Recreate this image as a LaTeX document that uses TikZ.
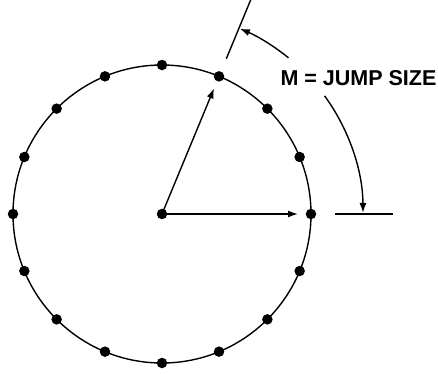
\documentclass[tikz,border=0pt]{standalone}
\usepackage{fontspec}
\setmainfont{Liberation Sans}
\usetikzlibrary{arrows.meta,calc}
\tikzset{
  dot/.style={circle,fill=black,inner sep=0pt,minimum size=10.5pt},
  ln/.style={line width=1.4pt},
  arr/.style={ln,-{Latex[length=10pt,width=7pt]}},
  lbl/.style={font=\bfseries\fontsize{21.5}{25}\selectfont,inner sep=0pt}
}
\begin{document}
\begin{tikzpicture}[x=1pt,y=-1pt]
\useasboundingbox (0,0) rectangle (438,373);
\coordinate (c) at (162,214);
\draw[ln] (c) circle[radius=149];
\node[dot] (ctr) at (c) {};
\foreach \i in {0,...,15}{
  \node[dot] (d\i) at ($(c)+(-22.5*\i:149)$) {};
}
% vectors
\draw[arr,shorten >=13pt] (ctr.center) -- (d0.center);
\draw[arr,shorten >=13pt] (ctr.center) -- (d3.center);
% radial tick and horizontal tick
\coordinate (t1a) at ($(c)+(-67.5:168)$);
\coordinate (t1b) at ($(c)+(-67.5:232)$);
\coordinate (t2a) at ($(c)+(0:173)$);
\coordinate (t2b) at ($(c)+(0:231)$);
\draw[ln] (t1a) -- (t1b);
\draw[ln] (t2a) -- (t2b);
% label
\node[lbl] (m) at (358.5,78.5) {M = JUMP SIZE};
% arcs
\coordinate (a1) at ($(c)+(-51:201)$);
\coordinate (a2) at ($(c)+(-36:201)$);
\draw[arr] (a1) arc[start angle=-51,end angle=-67.2,radius=201];
\draw[arr] (a2) arc[start angle=-36,end angle=-0.3,radius=201];
\end{tikzpicture}
\end{document}
